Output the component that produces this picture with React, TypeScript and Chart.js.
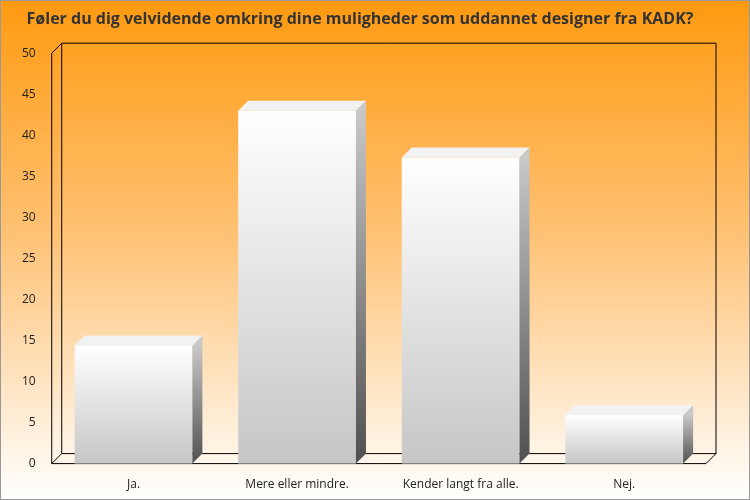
import { useEffect, useRef } from "react"
import { Chart, registerables } from "chart.js"

Chart.register(...registerables)

const categories = ["Ja.", "Mere eller mindre.", "Kender langt fra alle.", "Nej."]
const answers = [14.4, 43, 37.3, 5.9]
const titleText = "Føler du dig velvidende omkring dine muligheder som uddannet designer fra KADK?"
const DEPTH = 10

const scenery = {
  id: "scenery",
  beforeDraw(chart: any) {
    const { ctx, width, height, chartArea } = chart
    const g = ctx.createLinearGradient(0, 0, 0, height)
    g.addColorStop(0, "#ff9a10")
    g.addColorStop(0.45, "#ffc070")
    g.addColorStop(1, "#ffffff")
    ctx.save()
    ctx.fillStyle = g
    ctx.fillRect(0, 0, width, height)
    ctx.strokeStyle = "#999"
    ctx.lineWidth = 1
    ctx.strokeRect(0.5, 0.5, width - 1, height - 1)
    const { left: l, right: r, top: t, bottom: b } = chartArea
    ctx.strokeStyle = "#000"
    ctx.beginPath()
    ctx.rect(l + DEPTH, t - DEPTH, r - l, b - t)
    ctx.moveTo(l, t)
    ctx.lineTo(l, b)
    ctx.lineTo(r, b)
    ctx.lineTo(r + DEPTH, b - DEPTH)
    ctx.moveTo(l, b)
    ctx.lineTo(l + DEPTH, b - DEPTH)
    ctx.moveTo(l, t)
    ctx.lineTo(l + DEPTH, t - DEPTH)
    ctx.stroke()
    ctx.restore()
  },
  afterDatasetsDraw(chart: any) {
    const { ctx } = chart
    const meta = chart.getDatasetMeta(0)
    ctx.save()
    meta.data.forEach((bar: any) => {
      const x0 = bar.x - bar.width / 2
      const x1 = bar.x + bar.width / 2
      const top = bar.y
      const bottom = bar.base
      const front = ctx.createLinearGradient(0, top, 0, bottom)
      front.addColorStop(0, "#ffffff")
      front.addColorStop(1, "#c6c6c6")
      ctx.fillStyle = front
      ctx.fillRect(x0, top, x1 - x0, bottom - top)
      const side = ctx.createLinearGradient(0, top, 0, bottom)
      side.addColorStop(0, "#c8c8c8")
      side.addColorStop(1, "#505050")
      ctx.fillStyle = side
      ctx.beginPath()
      ctx.moveTo(x1, top)
      ctx.lineTo(x1 + DEPTH, top - DEPTH)
      ctx.lineTo(x1 + DEPTH, bottom - DEPTH)
      ctx.lineTo(x1, bottom)
      ctx.closePath()
      ctx.fill()
      ctx.fillStyle = "#f2f2f2"
      ctx.beginPath()
      ctx.moveTo(x0, top)
      ctx.lineTo(x0 + DEPTH, top - DEPTH)
      ctx.lineTo(x1 + DEPTH, top - DEPTH)
      ctx.lineTo(x1, top)
      ctx.closePath()
      ctx.fill()
    })
    ctx.restore()
  },
}

export default function App() {
  const canvasRef = useRef<HTMLCanvasElement>(null)
  const chartInstance = useRef<Chart | null>(null)

  useEffect(() => {
    document.body.style.margin = "0"
    if (!canvasRef.current) return
    if (chartInstance.current) chartInstance.current.destroy()
    const ctx = canvasRef.current.getContext("2d")
    if (!ctx) return

    chartInstance.current = new Chart(ctx, {
      type: "bar",
      data: {
        labels: categories,
        datasets: [
          {
            data: answers,
            backgroundColor: "rgba(0,0,0,0)",
            barPercentage: 0.72,
            categoryPercentage: 1,
          },
        ],
      },
      options: {
        animation: false,
        responsive: false,
        layout: { padding: { left: 14, right: 44, top: 6, bottom: 2 } },
        plugins: {
          legend: { display: false },
          tooltip: { enabled: false },
          title: {
            display: true,
            text: titleText,
            color: "#333",
            font: { family: "Open Sans", size: 16, weight: "bold" },
            padding: { top: 4, bottom: 24 },
          },
        },
        scales: {
          x: {
            grid: { display: false },
            border: { display: false },
            ticks: { color: "#222", font: { family: "Open Sans", size: 12 }, padding: 6 },
          },
          y: {
            min: 0,
            max: 50,
            grid: { display: false },
            border: { display: false },
            ticks: { stepSize: 5, color: "#222", font: { family: "Open Sans", size: 12 }, padding: 8 },
          },
        },
      },
      plugins: [scenery],
    })

    return () => {
      if (chartInstance.current) chartInstance.current.destroy()
    }
  }, [])

  return <canvas ref={canvasRef} width={750} height={500} style={{ display: "block" }} />
}
